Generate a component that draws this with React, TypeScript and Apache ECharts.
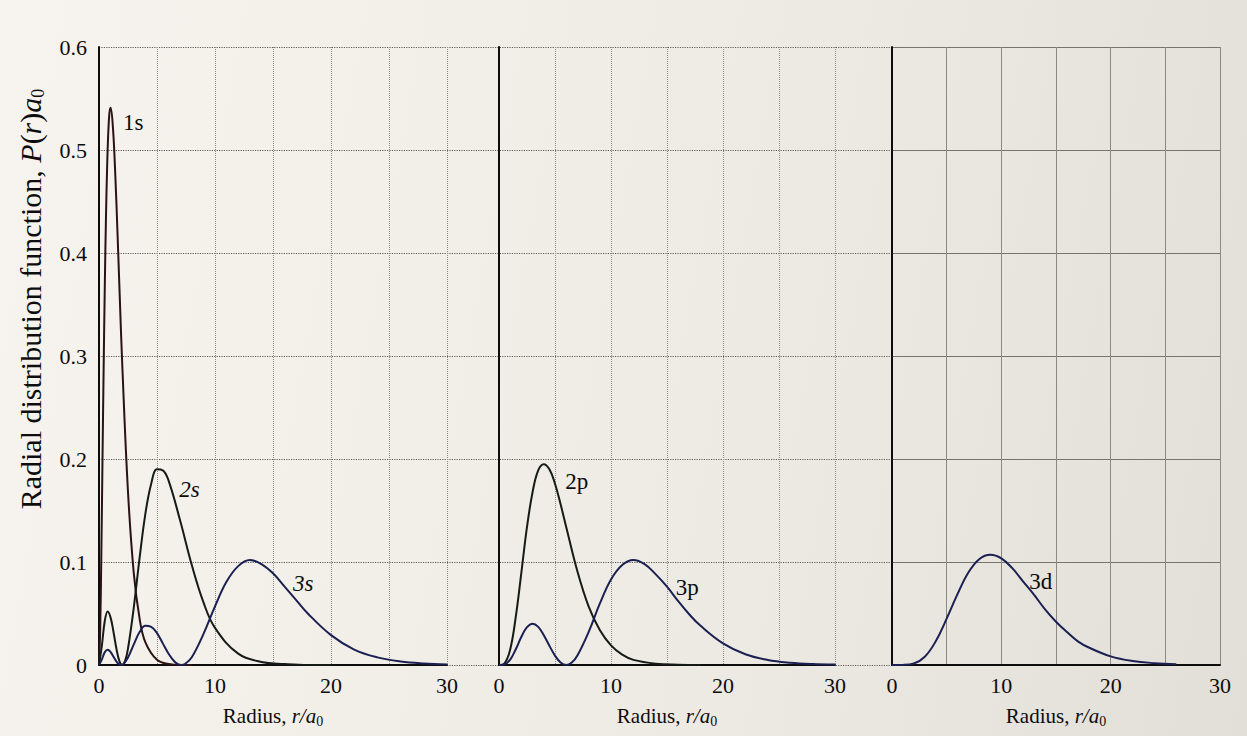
import React, { useEffect, useRef } from "react";
import * as echarts from "echarts";

// ---- data (radius r/a0, radial distribution P(r)a0) ----
const R_1S = [0, 0.1, 0.2, 0.3, 0.4, 0.5, 0.6, 0.7, 0.8, 0.9, 1.0, 1.2, 1.4, 1.6, 1.8, 2.0, 2.5, 3, 3.5, 4, 5, 6, 7, 8];
const P_1S = [0, 0.033, 0.107, 0.198, 0.288, 0.368, 0.434, 0.483, 0.517, 0.536, 0.541, 0.522, 0.477, 0.418, 0.354, 0.293, 0.168, 0.089, 0.045, 0.022, 0.005, 0.001, 0, 0];

const R_2S = [0, 0.25, 0.5, 0.75, 1, 1.25, 1.5, 1.75, 2, 2.25, 2.5, 3, 3.5, 4, 4.5, 5, 5.5, 6, 7, 8, 9, 10, 12, 14, 16, 18, 20];
const P_2S = [0, 0.019, 0.043, 0.052, 0.046, 0.032, 0.016, 0.004, 0, 0.004, 0.016, 0.056, 0.104, 0.147, 0.176, 0.19, 0.189, 0.179, 0.14, 0.097, 0.061, 0.036, 0.011, 0.003, 0.001, 0, 0];

const R_3S = [0, 0.25, 0.5, 0.75, 1, 1.25, 1.5, 1.7, 1.9, 2.1, 2.5, 3, 3.5, 4, 4.5, 5, 5.5, 6, 6.5, 6.8, 7.1, 7.4, 8, 9, 10, 11, 12, 13, 14, 15, 16, 17, 18, 20, 22, 24, 26, 28, 30];
const P_3S = [0, 0.0055, 0.0125, 0.0148, 0.0126, 0.008, 0.0034, 0.0009, 0, 0.0009, 0.0073, 0.02, 0.032, 0.038, 0.037, 0.031, 0.021, 0.011, 0.0034, 0.0009, 0, 0.0009, 0.0076, 0.03, 0.057, 0.081, 0.096, 0.102, 0.098, 0.089, 0.076, 0.063, 0.05, 0.029, 0.015, 0.0074, 0.0034, 0.0015, 0.0006];

const R_2P = [0, 0.5, 1, 1.5, 2, 2.5, 3, 3.5, 4, 4.5, 5, 5.5, 6, 7, 8, 9, 10, 11, 12, 14, 16, 18];
const P_2P = [0, 0.0016, 0.015, 0.047, 0.09, 0.134, 0.168, 0.189, 0.195, 0.19, 0.176, 0.156, 0.134, 0.091, 0.057, 0.034, 0.019, 0.01, 0.005, 0.0013, 0.0003, 0];

const R_3P = [0, 0.5, 1, 1.5, 2, 2.5, 3, 3.5, 4, 4.5, 5, 5.5, 6, 6.5, 7, 8, 9, 10, 11, 12, 13, 14, 15, 16, 17, 18, 20, 22, 24, 26, 28, 30];
const P_3P = [0, 0.0006, 0.0052, 0.0153, 0.0274, 0.0367, 0.0401, 0.037, 0.0289, 0.0187, 0.0091, 0.0024, 0, 0.0024, 0.0092, 0.032, 0.0595, 0.083, 0.097, 0.102, 0.098, 0.088, 0.076, 0.062, 0.049, 0.038, 0.021, 0.0104, 0.0049, 0.0022, 0.0009, 0.0004];

const R_3D = [0, 1, 2, 3, 4, 5, 6, 7, 8, 9, 10, 11, 12, 13, 14, 15, 16, 17, 18, 20, 22, 24, 26];
const P_3D = [0, 0.0001, 0.0014, 0.008, 0.023, 0.045, 0.069, 0.09, 0.103, 0.107, 0.1035, 0.094, 0.081, 0.068, 0.054, 0.042, 0.032, 0.023, 0.017, 0.0084, 0.0039, 0.0018, 0.0008];

const X_TICKS = [0, 10, 20, 30];
const Y_TICKS = [0, 0.1, 0.2, 0.3, 0.4, 0.5, 0.6];

// curve label texts and their anchor (data coordinates within each panel)
const LABELS = [
  { text: "1s", panel: 0, at: [2.95, 0.527], italic: false },
  { text: "2s", panel: 0, at: [7.8, 0.17], italic: true },
  { text: "3s", panel: 0, at: [17.6, 0.079], italic: true },
  { text: "2p", panel: 1, at: [6.95, 0.178], italic: false },
  { text: "3p", panel: 1, at: [16.8, 0.075], italic: false },
  { text: "3d", panel: 2, at: [13.6, 0.081], italic: false },
];

const FONT = "Liberation Serif";
const INK = "#0e0d0d";
const C_DARK = "#161b16";
const C_RED = "#2a1215";
const C_NAVY = "#1b2052";

const pairs = (r: number[], p: number[]) => r.map((x, i) => [x, p[i]]);

export default function App() {
  const ref = useRef<HTMLDivElement>(null);

  useEffect(() => {
    document.body.style.margin = "0";
    const chart = echarts.init(ref.current!, null, { renderer: "svg" });

    const W = 1247;
    const panels = [
      { left: 99, right: W - 447 },
      { left: 499, right: W - 835 },
      { left: 892, right: W - 1220 },
    ];
    const TOP = 47;
    const BOTTOM = 736 - 665;

    const nameRich = {
      a: { fontFamily: FONT, fontSize: 21, color: INK, lineHeight: 23, verticalAlign: "top" },
      i: { fontFamily: FONT, fontSize: 21, fontStyle: "italic", color: INK, lineHeight: 23, verticalAlign: "top" },
      s: { fontFamily: FONT, fontSize: 14, color: INK, lineHeight: 14, verticalAlign: "bottom", padding: [14, 0, 0, 0] },
    };

    const grids = [
      ...panels.map((p) => ({ left: p.left, right: p.right, top: TOP, bottom: BOTTOM })),
      { left: 99, right: W - 892, top: TOP, bottom: BOTTOM },
      { left: 892, right: W - 1220, top: TOP, bottom: BOTTOM },
    ];

    const xAxes: any[] = panels.map((_, i) => ({
      type: "value",
      gridIndex: i,
      min: 0,
      max: 30,
      interval: 5,
      z: 3,
      axisLine: { show: true, onZero: false, lineStyle: { color: "#0d0d0d", width: 2 } },
      axisTick: { show: false },
      axisLabel: {
        fontFamily: FONT,
        fontSize: 22,
        color: INK,
        margin: 9,
        formatter: (v: number) => (X_TICKS.includes(v) ? String(v) : ""),
      },
      splitLine: {
        show: true,
        lineStyle: i === 2 ? { type: "solid", color: "#8c8882", width: 1 } : { type: "dotted", color: "#8f8b85", width: 1 },
      },
      name: "{a|Radius, }{i|r/a}{s|0}",
      nameLocation: "middle",
      nameGap: 37,
      nameTextStyle: { rich: nameRich },
    }));
    xAxes.push(
      { type: "value", gridIndex: 3, min: 0, max: 1, show: false },
      { type: "value", gridIndex: 4, min: 0, max: 1, show: false }
    );

    const yAxes: any[] = panels.map((_, i) => ({
      type: "value",
      gridIndex: i,
      min: 0,
      max: 0.6,
      interval: 0.1,
      z: 3,
      axisLine: { show: true, lineStyle: { color: "#0d0d0d", width: 2 } },
      axisTick: { show: false },
      axisLabel: {
        show: i === 0,
        fontFamily: FONT,
        fontSize: 22,
        color: INK,
        margin: 12,
        formatter: (v: number) => {
          const t = Y_TICKS.find((y) => Math.abs(y - v) < 1e-9);
          return t === undefined ? "" : t === 0 ? "0" : t.toFixed(1);
        },
      },
      splitLine: { show: false },
    }));
    yAxes.push(
      {
        type: "value",
        gridIndex: 3,
        min: 0,
        max: 0.6,
        interval: 0.1,
        z: 0,
        axisLine: { show: false },
        axisTick: { show: false },
        axisLabel: { show: false },
        splitLine: { show: true, lineStyle: { type: "dotted", color: "#5f5b56", width: 1.2 } },
      },
      {
        type: "value",
        gridIndex: 4,
        min: 0,
        max: 0.6,
        interval: 0.1,
        z: 0,
        axisLine: { show: false },
        axisTick: { show: false },
        axisLabel: { show: false },
        splitLine: { show: true, lineStyle: { type: "solid", color: "#77736d", width: 1 } },
      }
    );

    const curve = (name: string, panel: number, r: number[], p: number[], color: string) => ({
      name,
      type: "line",
      xAxisIndex: panel,
      yAxisIndex: panel,
      data: pairs(r, p),
      smooth: 0.4,
      showSymbol: false,
      symbol: "none",
      z: 5,
      lineStyle: { color, width: 2 },
      silent: true,
    });

    const series: any[] = [
      curve("1s", 0, R_1S, P_1S, C_RED),
      curve("2s", 0, R_2S, P_2S, C_DARK),
      curve("3s", 0, R_3S, P_3S, C_NAVY),
      curve("2p", 1, R_2P, P_2P, C_DARK),
      curve("3p", 1, R_3P, P_3P, C_NAVY),
      curve("3d", 2, R_3D, P_3D, C_NAVY),
    ];

    const yTitle = {
      type: "text",
      x: 31,
      y: 299,
      rotation: Math.PI / 2,
      silent: true,
      style: {
        text: "{a|Radial distribution function, }{i|P}{a|(}{i|r}{a|)}{i|a}{s|0}",
        align: "center",
        verticalAlign: "middle",
        rich: {
          a: { fontFamily: FONT, fontSize: 30, fill: INK, lineHeight: 31, verticalAlign: "top" },
          i: { fontFamily: FONT, fontSize: 30, fontStyle: "italic", fill: INK, lineHeight: 31, verticalAlign: "top" },
          s: { fontFamily: FONT, fontSize: 18, fill: INK, lineHeight: 18, verticalAlign: "bottom", padding: [19, 0, 0, 0] },
        },
      },
    };

    chart.setOption({
      animation: false,
      backgroundColor: "transparent",
      grid: grids,
      xAxis: xAxes,
      yAxis: yAxes,
      series,
      graphic: [yTitle],
    });

    // curve labels: data coordinates converted through each panel's axes
    const labelGraphics = LABELS.map((lb) => {
      const pt = chart.convertToPixel({ xAxisIndex: lb.panel, yAxisIndex: lb.panel }, lb.at) as number[];
      return {
        type: "text",
        x: pt[0],
        y: pt[1],
        silent: true,
        z: 10,
        style: {
          text: lb.text,
          fontFamily: FONT,
          fontSize: 23,
          fontStyle: lb.italic ? "italic" : "normal",
          fill: INK,
          align: "center",
          verticalAlign: "middle",
        },
      };
    });
    chart.setOption({ graphic: [yTitle, ...labelGraphics] });

    return () => chart.dispose();
  }, []);

  return (
    <div
      ref={ref}
      style={{
        width: 1247,
        height: 736,
        background: "linear-gradient(100deg, #f7f4ef 0%, #f2eee8 35%, #ece8e2 65%, #e2ded8 100%)",
      }}
    />
  );
}
